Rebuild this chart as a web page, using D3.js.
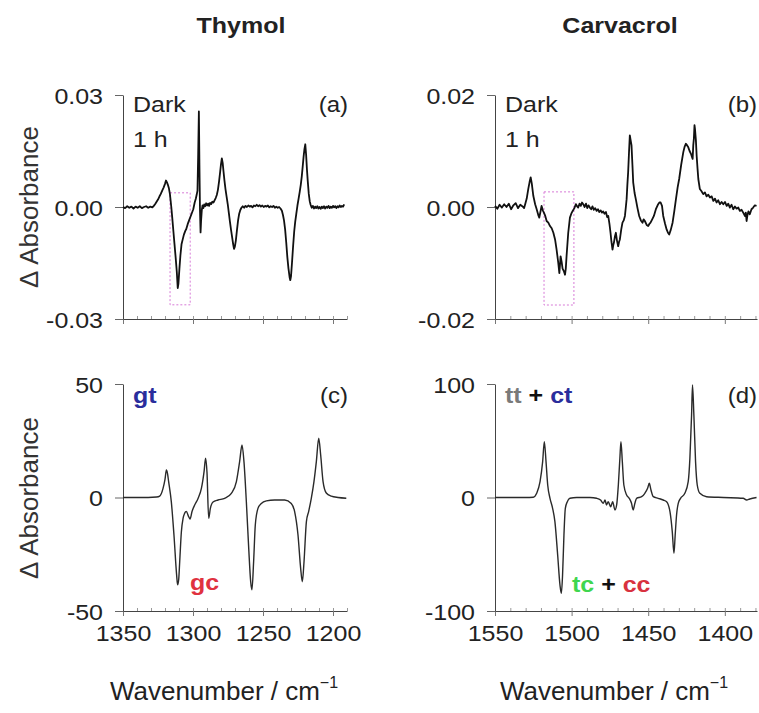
<!DOCTYPE html>
<html>
<head>
<meta charset="utf-8">
<script src="https://cdn.jsdelivr.net/npm/d3@7"></script>
<style>
  body { margin: 0; background: #fff; }
  svg { font-family: "Liberation Sans", Arial, sans-serif; }
</style>
</head>
<body>
<div class="svg-container"></div>
<script>
// wavenumber (cm-1), delta absorbance
const thymolExp = [
  [1350,0.0000],[1348.5,-0.0003],[1347,0.0002],[1345.5,-0.0002],[1344,0.0001],[1342.5,-0.0004],[1341,0.0001],[1339.5,-0.0002],[1338,0.0002],[1336.5,-0.0003],[1335,0.0000],[1333.5,0.0002],[1332,-0.0002],[1330.5,0.0001],[1329,-0.0001],[1328,0.0003],[1327,0.0008],[1326,0.0014],[1325,0.0020],[1324,0.0028],[1323,0.0035],[1322,0.0044],[1321,0.0052],[1320,0.0062],[1319.3,0.0071],[1318.6,0.0066],[1318,0.0060],[1317.2,0.0050],[1316.5,0.0035],[1316,0.0018],[1315.5,0.0000],[1314.8,-0.0030],[1314,-0.0065],[1313.2,-0.0100],[1312.4,-0.0135],[1311.6,-0.0172],[1310.9,-0.0217],[1310.4,-0.0205],[1309.7,-0.0165],[1309,-0.0130],[1308.2,-0.0100],[1307.3,-0.0086],[1306.5,-0.0074],[1305.5,-0.0064],[1304.8,-0.0059],[1303.8,-0.0046],[1302.8,-0.0036],[1301.8,-0.0026],[1300.8,-0.0016],[1299.8,-0.0006],[1298.8,0.0012],[1298,0.0022],[1297.3,0.0034],[1296.8,0.0044],[1296.3,0.0140],[1295.8,0.0256],[1295.4,0.0110],[1295,-0.0010],[1294.6,-0.0068],[1294.2,-0.0035],[1293.7,-0.0008],[1293.2,0.0004],[1292.6,-0.0003],[1292,0.0007],[1291.3,0.0002],[1290.6,0.0010],[1289.9,0.0004],[1289.2,0.0009],[1288.5,0.0003],[1287.8,0.0011],[1287,0.0008],[1286.2,0.0014],[1285.4,0.0012],[1284.6,0.0018],[1283.8,0.0024],[1283,0.0032],[1282.2,0.0046],[1281.4,0.0068],[1280.6,0.0094],[1280,0.0115],[1279.4,0.0130],[1278.8,0.0118],[1278.2,0.0095],[1277.5,0.0070],[1276.8,0.0048],[1276,0.0028],[1275.2,0.0008],[1274.4,-0.0016],[1273.6,-0.0040],[1272.8,-0.0062],[1272,-0.0082],[1271.3,-0.0100],[1270.7,-0.0112],[1270.1,-0.0106],[1269.4,-0.0090],[1268.6,-0.0062],[1267.8,-0.0036],[1267,-0.0018],[1266.2,-0.0008],[1265.4,-0.0002],[1264.5,0.0002],[1263.5,-0.0002],[1262.5,0.0003],[1261.5,0.0000],[1260.5,0.0004],[1259.5,0.0001],[1258.5,0.0003],[1257.5,-0.0001],[1256.5,0.0004],[1255.5,0.0002],[1254.5,0.0006],[1253.5,0.0002],[1252.5,0.0005],[1251.5,0.0001],[1250.5,0.0004],[1249.5,0.0000],[1248.5,0.0003],[1247.5,0.0001],[1246.5,0.0004],[1245.5,-0.0001],[1244.5,0.0002],[1243.5,0.0000],[1242.5,0.0003],[1241.5,-0.0002],[1240.5,0.0001],[1239.5,-0.0002],[1238.5,0.0000],[1237.5,-0.0004],[1236.5,-0.0010],[1235.7,-0.0022],[1235,-0.0036],[1234.2,-0.0060],[1233.4,-0.0095],[1232.6,-0.0135],[1231.8,-0.0165],[1231,-0.0188],[1230.5,-0.0196],[1230,-0.0186],[1229.3,-0.0150],[1228.5,-0.0105],[1227.7,-0.0065],[1227,-0.0040],[1226.2,-0.0018],[1225.4,0.0004],[1224.6,0.0022],[1223.8,0.0040],[1223,0.0060],[1222.3,0.0082],[1221.6,0.0110],[1221,0.0135],[1220.4,0.0155],[1219.8,0.0168],[1219.2,0.0140],[1218.6,0.0100],[1218,0.0068],[1217.3,0.0035],[1216.6,0.0015],[1216,0.0006],[1215.2,-0.0002],[1214.4,0.0003],[1213.6,-0.0004],[1212.8,0.0001],[1212,-0.0003],[1211.2,0.0002],[1210.4,-0.0004],[1209.6,0.0000],[1208.8,-0.0005],[1208,0.0001],[1207.2,-0.0003],[1206.4,0.0002],[1205.6,-0.0004],[1204.8,0.0001],[1204,-0.0002],[1203.2,0.0003],[1202.4,-0.0003],[1201.6,0.0001],[1200.8,-0.0002],[1200,0.0003],[1199.2,-0.0001],[1198.4,0.0002],[1197.6,-0.0003],[1196.8,0.0002],[1196,-0.0001],[1195.2,0.0004],[1194.4,0.0000],[1193.6,0.0003],[1192.8,0.0001],[1192,0.0007]
]

const carvacrolExp = [
  [1550,0.0002],[1548.5,-0.0003],[1547,0.0004],[1545.5,-0.0001],[1544,0.0005],[1542.5,0.0000],[1541,0.0006],[1539.5,-0.0004],[1538,0.0003],[1536.5,0.0007],[1535,-0.0002],[1533.5,0.0004],[1532,0.0001],[1531,-0.0002],[1530.4,0.0004],[1529.3,0.0015],[1528.3,0.0032],[1527.4,0.0045],[1526.7,0.0053],[1526,0.0042],[1525,0.0020],[1523.8,0.0005],[1522.8,-0.0004],[1521.8,-0.0014],[1521.1,-0.0019],[1520.3,-0.0008],[1519.6,0.0002],[1518.8,-0.0006],[1518.1,-0.0010],[1517.2,-0.0016],[1516.3,-0.0025],[1515.2,-0.0028],[1514.1,-0.0034],[1513,-0.0038],[1511.9,-0.0046],[1510.8,-0.0058],[1509.8,-0.0076],[1508.7,-0.0100],[1508,-0.0118],[1507.5,-0.0100],[1507.2,-0.0088],[1506.5,-0.0098],[1505.9,-0.0110],[1505,-0.0115],[1504.3,-0.0121],[1503.8,-0.0110],[1503.3,-0.0088],[1502.2,-0.0046],[1501.1,-0.0019],[1500.2,-0.0012],[1499.3,-0.0007],[1498.2,-0.0002],[1497.2,0.0005],[1496.4,0.0001],[1495.7,-0.0001],[1494.8,0.0006],[1494,0.0002],[1493.2,0.0008],[1492.4,0.0005],[1491.5,0.0000],[1490.6,0.0006],[1489.8,-0.0002],[1489,0.0003],[1488.1,-0.0001],[1487.2,-0.0004],[1486.4,0.0001],[1485.5,-0.0005],[1484.6,-0.0002],[1483.7,-0.0007],[1482.8,-0.0004],[1481.9,-0.0009],[1481,-0.0006],[1480.2,-0.0010],[1479.4,-0.0008],[1478.5,-0.0012],[1477.6,-0.0009],[1476.8,-0.0018],[1476.1,-0.0016],[1475.3,-0.0030],[1474.6,-0.0046],[1474,-0.0062],[1473.3,-0.0076],[1472.8,-0.0068],[1472.4,-0.0064],[1471.7,-0.0052],[1471.1,-0.0046],[1470.4,-0.0060],[1469.6,-0.0070],[1469,-0.0062],[1468.5,-0.0058],[1467.6,-0.0040],[1466.8,-0.0028],[1466,-0.0024],[1465.2,-0.0016],[1464.6,0.0000],[1464.1,0.0014],[1463.6,0.0040],[1463.1,0.0062],[1462.5,0.0100],[1462,0.0128],[1461.4,0.0118],[1460.9,0.0110],[1460.3,0.0075],[1459.8,0.0044],[1458.9,0.0025],[1458.1,0.0014],[1457,-0.0002],[1455.9,-0.0016],[1454.8,-0.0024],[1453.7,-0.0028],[1453,-0.0022],[1452.2,-0.0025],[1451,-0.0032],[1450,-0.0034],[1449.2,-0.0030],[1448.5,-0.0028],[1447.4,-0.0022],[1446.3,-0.0016],[1445,-0.0004],[1443.5,0.0005],[1442.7,0.0008],[1441.9,0.0008],[1441,0.0002],[1440.2,-0.0016],[1439,-0.0030],[1438,-0.0040],[1437.1,-0.0046],[1436.3,-0.0049],[1435.2,-0.0040],[1434.1,-0.0028],[1433,-0.0008],[1431.9,0.0014],[1430.8,0.0035],[1429.8,0.0050],[1428.5,0.0075],[1427.1,0.0098],[1426.2,0.0108],[1425.4,0.0113],[1424.6,0.0110],[1423.9,0.0107],[1423,0.0100],[1422.1,0.0095],[1421.5,0.0090],[1421,0.0086],[1420.6,0.0110],[1420.2,0.0122],[1419.8,0.0146],[1419.5,0.0140],[1418.9,0.0120],[1418.4,0.0092],[1417.8,0.0068],[1417.3,0.0050],[1416.3,0.0032],[1415.2,0.0028],[1414.1,0.0023],[1413,0.0026],[1411.9,0.0019],[1410.8,0.0022],[1409.7,0.0017],[1408.6,0.0019],[1407.5,0.0011],[1406.4,0.0015],[1405.4,0.0008],[1404.3,0.0012],[1403.2,0.0005],[1402.1,0.0009],[1401,0.0005],[1399.9,0.0009],[1398.8,0.0002],[1397.8,0.0006],[1396.7,-0.0001],[1395.6,0.0004],[1394.5,-0.0004],[1393.4,0.0001],[1392.3,-0.0003],[1391.2,-0.0001],[1390.2,-0.0007],[1389.1,-0.0005],[1388,-0.0010],[1386.9,-0.0016],[1386.3,-0.0010],[1385.8,-0.0025],[1385.2,-0.0014],[1384.6,-0.0008],[1383.7,-0.0013],[1382.6,-0.0004],[1381.5,-0.0001],[1380.4,0.0003],[1379.3,0.0002]
]

const thymolCalc = [
  [1350,0],[1340,0],[1332,0],[1326,0.2],[1323.8,0.6],[1321.4,4.0],[1320,8.0],[1319,12.1],[1318.2,10.5],[1317.4,7.0],[1315.5,-1.8],[1313.6,-16.5],[1311.7,-34.1],[1311,-38.5],[1310.2,-36.0],[1309.5,-28.3],[1308.3,-15.1],[1307.1,-9.2],[1306,-7.0],[1304.8,-6.2],[1303.1,-8.4],[1302.1,-9.5],[1300.7,-6.2],[1298.8,-3.3],[1296.4,-0.4],[1294,4.0],[1292.1,11.4],[1291,17.3],[1290,11.0],[1288.8,-9.2],[1287.6,-4.8],[1285.7,-2.0],[1282.1,-1.1],[1277.4,-0.4],[1272.6,1.8],[1269,7.0],[1266.7,15.8],[1265,23.1],[1263.6,15.8],[1261.9,-1.8],[1260.2,-22.4],[1258.8,-37.1],[1257.9,-40.7],[1256.7,-28.3],[1255.5,-12.1],[1253.6,-4.8],[1251.2,-2.6],[1247.6,-1.5],[1241.7,-1.1],[1234.5,-1.1],[1229.8,-2.6],[1227.4,-6.2],[1225,-16.5],[1223.1,-31.2],[1221.9,-37.1],[1220.7,-28.3],[1219,-10.6],[1217.4,-6.2],[1215.5,-0.4],[1213.6,7.0],[1211.9,15.8],[1210.2,26.1],[1208.8,18.7],[1207.1,7.0],[1204.8,2.0],[1201.2,0.6],[1196.4,0],[1190.5,-0.3]
]

const carvacrolCalc = [
  [1550,0],[1540,0],[1530,0],[1525,0.2],[1522.8,3.7],[1520.6,13.9],[1518.9,31.6],[1517.8,49.2],[1516.7,31.6],[1515.6,11.0],[1514.1,-0.7],[1512.4,-9.5],[1510.9,-21.3],[1509.1,-50.7],[1507.6,-77.1],[1506.7,-84.4],[1505.9,-68.3],[1505,-33.0],[1504.1,-9.5],[1502.8,-3.7],[1501.1,-0.7],[1496.7,0],[1488,0],[1483.7,-0.7],[1481.1,-2.2],[1479.3,-5.1],[1478.2,-2.2],[1477.2,-6.6],[1476.1,-3.7],[1474.5,-8.1],[1473.2,-3.7],[1471.7,-11.0],[1470.6,-6.6],[1469.5,11.0],[1468.5,34.5],[1467.8,49.2],[1466.9,31.6],[1465.9,11.0],[1464.1,2.2],[1462.4,-0.7],[1460.9,-5.1],[1459.8,-11.0],[1458.7,-5.1],[1457.6,-0.7],[1454.3,0.7],[1452.2,3.7],[1450.4,8.1],[1449.3,12.5],[1448.2,6.6],[1446.7,0.7],[1443.5,-0.7],[1440.2,-2.2],[1438,-3.7],[1435.8,-12.5],[1434.3,-30.1],[1433.2,-49.2],[1432.4,-33.0],[1431.5,-15.4],[1430.4,-5.1],[1428.9,-0.7],[1426.1,3.7],[1423.9,13.9],[1422.8,34.5],[1421.7,72.7],[1421.1,99.1],[1420.2,72.7],[1419.1,31.6],[1418,11.0],[1416.3,3.7],[1411.9,0.7],[1401,0],[1388,-0.7],[1385.8,-2.2],[1383.7,-1.3],[1379.3,0]
]

const thymolXTicks = [1350, 1300, 1250, 1200]
const carvacrolXTicks = [1550, 1500, 1450, 1400]
const thymolExpYTicks = [-0.03, 0, 0.03]
const carvacrolExpYTicks = [-0.02, 0, 0.02]
const thymolCalcYTicks = [-50, 0, 50]
const carvacrolCalcYTicks = [-100, 0, 100]

// dotted boxes: [wn from, wn to, top value, bottom value]
const thymolBox = [1316.4, 1302, 0.0038, -0.0262]
const carvacrolBox = [1518, 1498.5, 0.0027, -0.0175]

;(function init() {
  const width = 759
  const height = 713

  const svg = d3
    .select('.svg-container')
    .append('svg')
    .attr('width', width)
    .attr('height', height)

  const panels = [
    { data: thymolExp, left: 123, right: 347, top: 95, bottom: 319, xDomain: [1350, 1190], yDomain: [-0.03, 0.03], xTicks: thymolXTicks, yTicks: thymolExpYTicks, fmt: (d) => d.toFixed(2), showX: false, box: thymolBox, smooth: false },
    { data: carvacrolExp, left: 495, right: 757, top: 95, bottom: 319, xDomain: [1550, 1379], yDomain: [-0.02, 0.02], xTicks: carvacrolXTicks, yTicks: carvacrolExpYTicks, fmt: (d) => d.toFixed(2), showX: false, box: carvacrolBox, smooth: false },
    { data: thymolCalc, left: 123, right: 347, top: 384, bottom: 611, xDomain: [1350, 1190], yDomain: [-50, 50], xTicks: thymolXTicks, yTicks: thymolCalcYTicks, fmt: (d) => String(d), showX: true, smooth: true },
    { data: carvacrolCalc, left: 495, right: 757, top: 384, bottom: 611, xDomain: [1550, 1379], yDomain: [-100, 100], xTicks: carvacrolXTicks, yTicks: carvacrolCalcYTicks, fmt: (d) => String(d), showX: true, smooth: true }
  ]

  panels.forEach(drawPanel)

  function drawPanel(p) {
    const xScale = d3.scaleLinear().domain(p.xDomain).range([p.left, p.right])
    const yScale = d3.scaleLinear().domain(p.yDomain).range([p.bottom, p.top])

    // minor ticks every 10 cm-1
    const lo = Math.ceil(Math.min(...p.xDomain) / 10) * 10
    const hi = Math.max(...p.xDomain)
    svg
      .append('g')
      .attr('transform', 'translate(0,' + p.bottom + ')')
      .call(d3.axisBottom(xScale).tickValues(d3.range(lo, hi + 1, 10)).tickSize(-3).tickFormat(''))
      .call((g) => g.select('.domain').remove())
      .call((g) => g.selectAll('line').attr('stroke', '#999'))

    const xAxis = svg
      .append('g')
      .attr('transform', 'translate(0,' + p.bottom + ')')
      .call(d3.axisBottom(xScale).tickValues(p.xTicks).tickSize(5).tickSizeOuter(0).tickFormat(p.showX ? (d) => d : ''))
    xAxis.select('.domain').attr('stroke', '#444')
    xAxis.selectAll('line').attr('stroke', '#777')
    xAxis
      .selectAll('text')
      .attr('y', 0)
      .attr('dy', 0)
      .attr('transform', 'translate(0,30) scale(1,0.9)')
      .attr('font-size', 25)
      .attr('font-family', null)
      .attr('fill', '#222')

    const yAxis = svg
      .append('g')
      .attr('transform', 'translate(' + p.left + ',0)')
      .call(d3.axisLeft(yScale).tickValues(p.yTicks).tickSize(8).tickSizeOuter(0).tickPadding(12).tickFormat(p.fmt))
    yAxis.select('.domain').attr('stroke', '#444')
    yAxis.selectAll('line').attr('stroke', '#666')
    yAxis
      .selectAll('text')
      .attr('dy', '0.36em')
      .attr('transform', 'scale(1,0.9)')
      .attr('font-size', 25)
      .attr('font-family', null)
      .attr('fill', '#222')

    if (p.box) {
      svg
        .append('rect')
        .attr('x', xScale(p.box[0]))
        .attr('y', yScale(p.box[2]))
        .attr('width', xScale(p.box[1]) - xScale(p.box[0]))
        .attr('height', yScale(p.box[3]) - yScale(p.box[2]))
        .attr('fill', 'none')
        .attr('stroke', '#d77ad7')
        .attr('stroke-width', 1)
        .attr('stroke-dasharray', '2,2')
    }

    const line = d3
      .line()
      .x((d) => xScale(d[0]))
      .y((d) => yScale(d[1]))
      .curve(p.smooth ? d3.curveMonotoneX : d3.curveLinear)

    svg
      .append('path')
      .datum(p.data)
      .attr('d', line)
      .attr('fill', 'none')
      .attr('stroke', p.smooth ? '#2a2a2a' : '#111')
      .attr('stroke-width', p.smooth ? 1.4 : 1.8)
      .attr('stroke-linejoin', 'round')
  }

  function addText(x, y, parts, opts = {}) {
    const t = svg
      .append('text')
      .attr('transform', 'translate(' + x + ',' + y + ') scale(1,0.9)')
      .attr('font-size', opts.size || 25)
      .attr('font-weight', opts.bold ? 'bold' : null)
      .attr('text-anchor', opts.anchor || 'start')
      .attr('fill', '#222')
    parts.forEach((part) => {
      t.append('tspan').attr('fill', part[1] || '#222').text(part[0])
    })
    return t
  }

  // column titles
  addText(241, 33, [['Thymol']], { bold: true, anchor: 'middle', size: 25 })
  addText(620, 33, [['Carvacrol']], { bold: true, anchor: 'middle', size: 25 })

  // panel annotations
  addText(133, 112, [['Dark']])
  addText(133, 147, [['1 h']])
  addText(348, 112, [['(a)']], { anchor: 'end', size: 24 })
  addText(505, 112, [['Dark']])
  addText(505, 147, [['1 h']])
  addText(757, 112, [['(b)']], { anchor: 'end', size: 24 })

  addText(133, 403, [['gt', '#2a2d9c']], { bold: true })
  addText(348, 403, [['(c)']], { anchor: 'end', size: 24 })
  addText(190, 590, [['gc', '#e0323f']], { bold: true })

  addText(505, 403, [['tt', '#7a7a7a'], [' + ', '#111'], ['ct', '#2a2d9c']], { bold: true })
  addText(757, 403, [['(d)']], { anchor: 'end', size: 24 })
  addText(572, 592, [['tc', '#3fd64f'], [' + ', '#111'], ['cc', '#d8323f']], { bold: true })

  // y titles
  ;[207, 498].forEach((cy) => {
    svg
      .append('text')
      .attr('transform', 'translate(29,' + cy + ') rotate(-90)')
      .attr('text-anchor', 'middle')
      .attr('dy', '0.36em')
      .attr('font-size', 26)
      .attr('fill', '#333')
      .text('\u0394 Absorbance')
  })

  // x titles
  ;[224, 614].forEach((cx) => {
    const t = svg
      .append('text')
      .attr('transform', 'translate(' + cx + ',700)')
      .attr('text-anchor', 'middle')
      .attr('font-size', 26)
      .attr('fill', '#222')
    t.append('tspan').text('Wavenumber / cm')
    t.append('tspan').attr('font-size', 16).attr('dy', -12).text('\u22121')
  })
})()
</script>
</body>
</html>
